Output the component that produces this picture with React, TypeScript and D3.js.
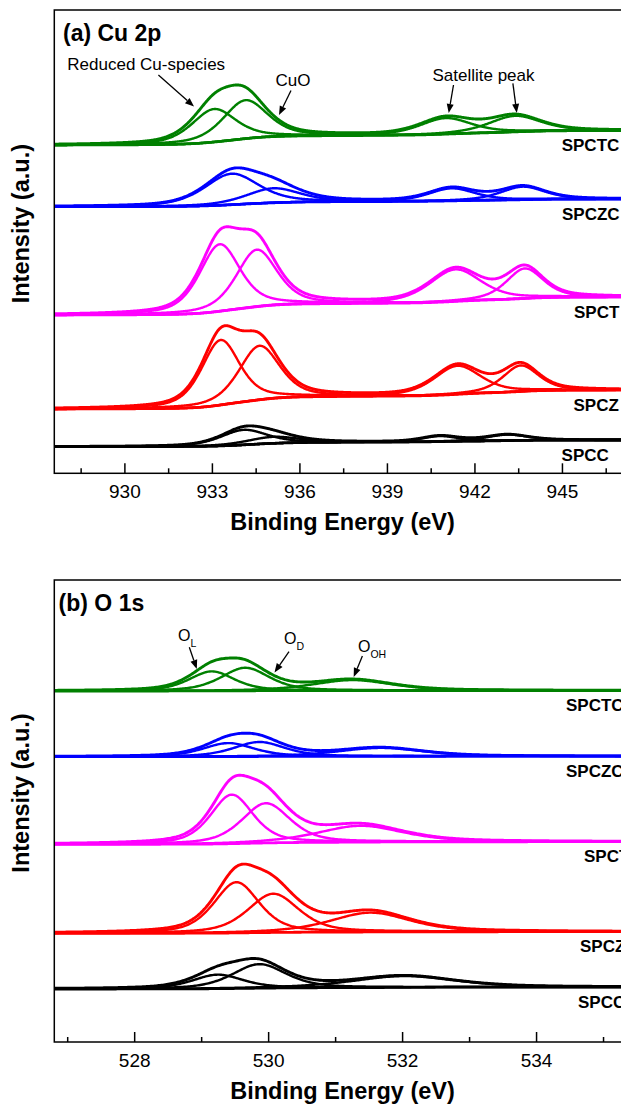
import React from "react";
import * as d3 from "d3";

const W = 621;
const H = 1105;
const FONT = "'Liberation Sans', Arial, Helvetica, sans-serif";

const sampleNames = ["SPCTC", "SPCZC", "SPCT", "SPCZ", "SPCC"];
const sampleColors = ["#008000", "#0000ff", "#ff00ff", "#ff0000", "#000000"];

// ---- Cu 2p ----
// Shirley background level (a.u.) at the low-BE and high-BE ends of each spectrum
const cuBgLow = [328.3, 266.6, 158.3, 64.3, 26.6];
const cuBgHigh = [342.8, 274.3, 176.3, 83.3, 33.3];
// fitted components: [centre (eV), height (a.u.), FWHM (eV)]
// order: reduced Cu-species, CuO, satellite 1, satellite 2
const cuPeaksSPCTC = [[933.05, 33, 1.8], [934.13, 38.5, 1.8], [940.99, 16, 2.1], [943.37, 16, 2.1]];
const cuPeaksSPCZC = [[933.66, 31, 2.2], [935.09, 14.5, 2.2], [941.2, 12.5, 1.9], [943.64, 13, 1.8]];
const cuPeaksSPCT = [[933.25, 67, 1.65], [934.52, 57, 1.65], [941.33, 32, 2.1], [943.71, 30, 1.5]];
const cuPeaksSPCZ = [[933.28, 65, 1.55], [934.61, 54, 1.65], [941.4, 28.5, 1.9], [943.57, 26, 1.45]];
const cuPeaksSPCC = [[934.07, 15, 1.9], [935.09, 6.5, 2.1], [940.79, 5.5, 1.5], [943.1, 6, 1.7]];
const cuPeaks = [cuPeaksSPCTC, cuPeaksSPCZC, cuPeaksSPCT, cuPeaksSPCZ, cuPeaksSPCC];
const cuTicksMajor = [930, 933, 936, 939, 942, 945];
const cuTicksMinor = [928.5, 931.5, 934.5, 937.5, 940.5, 943.5, 946.5];

// ---- O 1s ----
const oBgLow = [351.0, 285.3, 197.7, 108.7, 53.0];
const oBgHigh = [351.5, 285.8, 200.3, 110.3, 55.0];
// order: O_L (lattice), O_D (defect), O_OH (hydroxyl)
const oPeaksSPCTC = [[529.15, 19.5, 0.8], [529.65, 23, 0.85], [531.25, 10.5, 1.4]];
const oPeaksSPCZC = [[529.4, 13.5, 0.9], [529.86, 14.5, 0.9], [531.67, 8.4, 1.5]];
const oPeaksSPCT = [[529.45, 49, 0.75], [529.96, 39.7, 0.85], [531.37, 16.3, 1.5]];
const oPeaksSPCZ = [[529.52, 50.7, 0.8], [530.07, 38.7, 0.9], [531.52, 19.3, 1.4]];
const oPeaksSPCC = [[529.24, 14, 0.9], [529.86, 24, 0.95], [532.02, 11.3, 1.8]];
const oPeaks = [oPeaksSPCTC, oPeaksSPCZC, oPeaksSPCT, oPeaksSPCZ, oPeaksSPCC];
const oTicksMajor = [528, 530, 532, 534];
const oTicksMinor = [527, 529, 531, 533, 535];

// Gaussian-Lorentzian (pseudo-Voigt) line shape
function pv(e: number, c: number, h: number, w: number, m: number) {
  const d = (e - c) / w;
  return h * ((1 - m) * Math.exp(-4 * Math.LN2 * d * d) + m / (1 + 4 * d * d));
}

type Curve = { e: number; v: number }[];

function buildSpectrum(peaks: number[][], low: number, high: number, e0: number, e1: number, mix: number) {
  const grid = d3.range(e0, e1 + 0.01, 0.02);
  const comps = peaks.map((p) => grid.map((e) => pv(e, p[0], p[1], p[2], mix)));
  const sum = grid.map((_, i) => d3.sum(comps, (c) => c[i]));
  // Shirley-type background: proportional to the integrated peak area from the low-BE side
  const cum: number[] = [0];
  for (let i = 1; i < grid.length; i++) cum.push(cum[i - 1] + (sum[i] + sum[i - 1]) / 2);
  const total = cum[cum.length - 1];
  const bg = grid.map((_, i) => low + (high - low) * (cum[i] / total));
  const baseline: Curve = grid.map((e, i) => ({ e, v: bg[i] }));
  const components: Curve[] = comps.map((c) => grid.map((e, i) => ({ e, v: bg[i] + c[i] })));
  const envelope: Curve = grid.map((e, i) => ({ e, v: bg[i] + sum[i] }));
  return { baseline, components, envelope };
}

type Note = { text: string; sub?: string; x: number; y: number; anchor?: string; from: [number, number]; to: [number, number] };

function Arrow({ from, to }: { from: [number, number]; to: [number, number] }) {
  const [x1, y1] = from;
  const [x2, y2] = to;
  const a = Math.atan2(y2 - y1, x2 - x1);
  const len = 9;
  const hw = 3.5;
  const bx = x2 - len * Math.cos(a);
  const by = y2 - len * Math.sin(a);
  const px = -Math.sin(a) * hw;
  const py = Math.cos(a) * hw;
  return (
    <g>
      <line x1={x1} y1={y1} x2={bx} y2={by} stroke="#000" strokeWidth={1.3} />
      <path d={`M${x2},${y2}L${bx + px},${by + py}L${bx - px},${by - py}Z`} fill="#000" />
    </g>
  );
}

function Panel(props: {
  id: string;
  top: number;
  bottom: number;
  domain: [number, number];
  yMax: number;
  peaks: number[][][];
  low: number[];
  high: number[];
  mix: number;
  major: number[];
  minor: number[];
  title: string;
  titleX: number;
  labelX: number[];
  notes: Note[];
}) {
  const left = 54.3;
  const right = 631;
  const x = d3.scaleLinear().domain(props.domain).range([left, right]);
  const y = d3.scaleLinear().domain([0, props.yMax]).range([props.bottom, props.top]);
  const line = d3
    .line<{ e: number; v: number }>()
    .x((d) => x(d.e))
    .y((d) => y(d.v))
    .curve(d3.curveLinear);
  const spectra = props.peaks.map((p, i) => buildSpectrum(p, props.low[i], props.high[i], props.domain[0], props.domain[1], props.mix));
  const clipId = `clip-${props.id}`;
  const midY = (props.top + props.bottom) / 2;
  return (
    <g>
      <defs>
        <clipPath id={clipId}>
          <rect x={left} y={props.top} width={right - left} height={props.bottom - props.top} />
        </clipPath>
      </defs>
      <g clipPath={`url(#${clipId})`} fill="none" strokeLinejoin="round">
        {spectra.map((s, i) => (
          <g key={i} stroke={sampleColors[i]} strokeWidth={2.4}>
            <path d={line(s.baseline) || ""} strokeWidth={2.8} />
            {s.components.map((c, j) => (
              <path key={j} d={line(c) || ""} />
            ))}
            <path d={line(s.envelope) || ""} strokeWidth={2.9} />
          </g>
        ))}
      </g>
      {/* frame */}
      <rect x={left} y={props.top} width={right - left} height={props.bottom - props.top} fill="none" stroke="#000" strokeWidth={1.5} />
      {props.major.map((t) => (
        <g key={`M${t}`}>
          <line x1={x(t)} x2={x(t)} y1={props.bottom} y2={props.bottom - 10} stroke="#000" strokeWidth={1.5} />
          <text x={x(t)} y={props.bottom + 25} textAnchor="middle" fontSize={19} fontFamily={FONT} fill="#000">
            {t}
          </text>
        </g>
      ))}
      {props.minor.map((t) => (
        <line key={`m${t}`} x1={x(t)} x2={x(t)} y1={props.bottom} y2={props.bottom - 5} stroke="#000" strokeWidth={1.5} />
      ))}
      <text x={342.5} y={props.bottom + 57} textAnchor="middle" fontSize={23.5} fontWeight="bold" fontFamily={FONT}>
        Binding Energy (eV)
      </text>
      <text
        transform={`translate(29,${midY - 18}) rotate(-90)`}
        textAnchor="middle"
        fontSize={23.5}
        fontWeight="bold"
        fontFamily={FONT}
      >
        Intensity (a.u.)
      </text>
      <text x={props.titleX} y={props.top + 31} fontSize={23} fontWeight="bold" fontFamily={FONT}>
        {props.title}
      </text>
      {sampleNames.map((n, i) => (
        <text key={n} x={props.labelX[i]} y={y(props.high[i]) + 20.5} fontSize={17} fontWeight="bold" fontFamily={FONT}>
          {n}
        </text>
      ))}
      {props.notes.map((n, i) => (
        <g key={i}>
          <text x={n.x} y={n.y} textAnchor={n.anchor || "start"} fontSize={n.sub ? 16 : 17} fontFamily={FONT}>
            {n.text}
            {n.sub ? (
              <tspan fontSize={10.5} dy={6}>
                {n.sub}
              </tspan>
            ) : null}
          </text>
          <Arrow from={n.from} to={n.to} />
        </g>
      ))}
    </g>
  );
}

const cuNotes: Note[] = [
  { text: "Reduced Cu-species", x: 67.3, y: 69.5, from: [158.4, 75], to: [194, 106.5] },
  { text: "CuO", x: 293, y: 86, anchor: "middle", from: [291, 90.5], to: [279, 115] },
  { text: "Satellite peak", x: 483.5, y: 81, anchor: "middle", from: [453.5, 85], to: [448.7, 113] },
  { text: "", x: 0, y: 0, from: [512.9, 83.3], to: [516.8, 113] },
];

const oNotes: Note[] = [
  { text: "O", sub: "L", x: 178, y: 641, from: [189.3, 647.3], to: [196.8, 669] },
  { text: "O", sub: "D", x: 284, y: 644, from: [289, 651.7], to: [274.5, 672.5] },
  { text: "O", sub: "OH", x: 358, y: 652, from: [362.4, 656], to: [353.7, 677] },
];

export default function App() {
  return (
    <svg
      width={W}
      height={H}
      viewBox={`0 0 ${W} ${H}`}
      style={{ position: "absolute", left: 0, top: 0, background: "#fff" }}
    >
      <rect width={W} height={H} fill="#fff" />
      <Panel
        id="cu"
        top={10}
        bottom={473.3}
        domain={[927.58, 947.35]}
        yMax={463.3}
        peaks={cuPeaks}
        low={cuBgLow}
        high={cuBgHigh}
        mix={0.5}
        major={cuTicksMajor}
        minor={cuTicksMinor}
        title="(a) Cu 2p"
        titleX={63}
        labelX={[561.7, 562, 574, 573.5, 561.6]}
        notes={cuNotes}
      />
      <Panel
        id="o"
        top={580}
        bottom={1042}
        domain={[526.8, 535.41]}
        yMax={462}
        peaks={oPeaks}
        low={oBgLow}
        high={oBgHigh}
        mix={0.5}
        major={oTicksMajor}
        minor={oTicksMinor}
        title="(b) O 1s"
        titleX={58.6}
        labelX={[566, 566, 584, 580, 578]}
        notes={oNotes}
      />
    </svg>
  );
}
